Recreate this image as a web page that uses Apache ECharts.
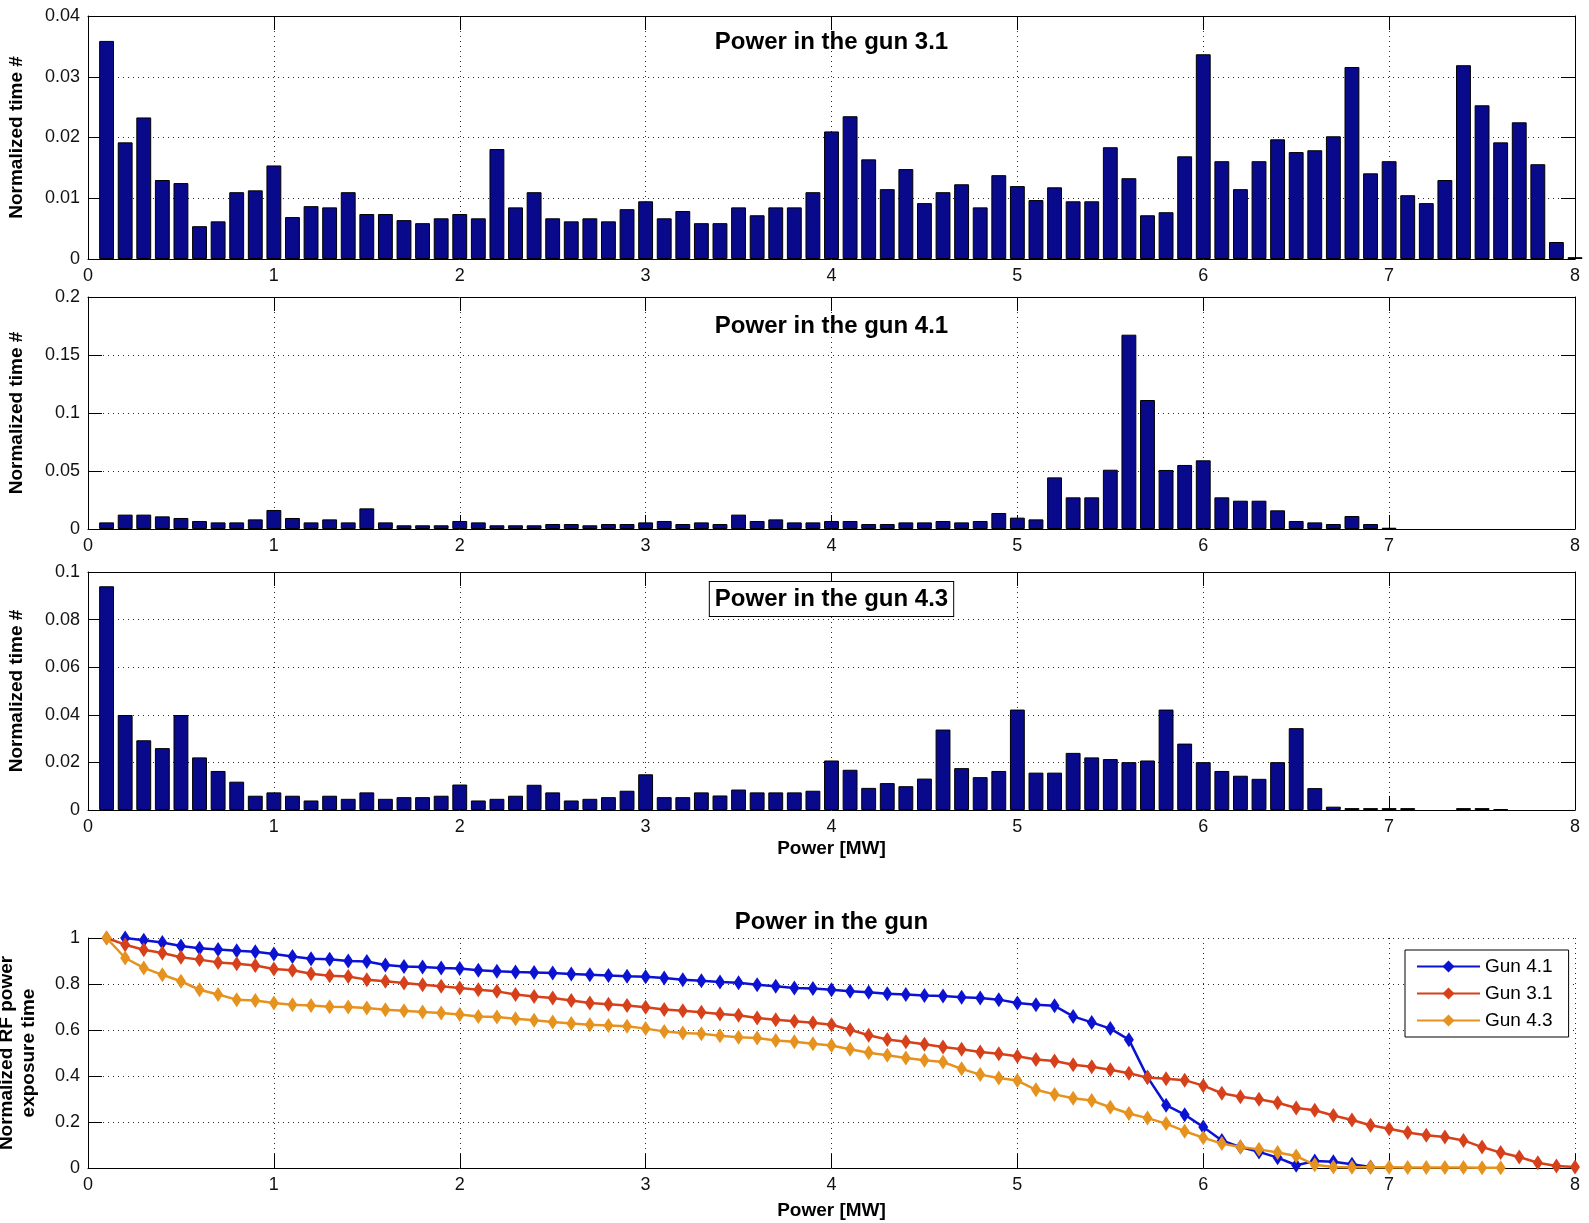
<!DOCTYPE html>
<html>
<head>
<meta charset="utf-8">
<title>Power in the gun</title>
<script src="https://cdn.jsdelivr.net/npm/echarts@6/dist/echarts.min.js"></script>
<style>
  html, body { margin: 0; padding: 0; background: #ffffff; }
  #chart { width: 1589px; height: 1223px; }
</style>
</head>
<body>
<div id="chart"></div>
<script>
// Histogram bin centres, MW
const powerBins = [
  0.1, 0.2, 0.3, 0.4, 0.5, 0.6, 0.7, 0.8, 0.9, 1.0,
  1.1, 1.2, 1.3, 1.4, 1.5, 1.6, 1.7, 1.8, 1.9, 2.0,
  2.1, 2.2, 2.3, 2.4, 2.5, 2.6, 2.7, 2.8, 2.9, 3.0,
  3.1, 3.2, 3.3, 3.4, 3.5, 3.6, 3.7, 3.8, 3.9, 4.0,
  4.1, 4.2, 4.3, 4.4, 4.5, 4.6, 4.7, 4.8, 4.9, 5.0,
  5.1, 5.2, 5.3, 5.4, 5.5, 5.6, 5.7, 5.8, 5.9, 6.0,
  6.1, 6.2, 6.3, 6.4, 6.5, 6.6, 6.7, 6.8, 6.9, 7.0,
  7.1, 7.2, 7.3, 7.4, 7.5, 7.6, 7.7, 7.8, 7.9, 8.0
];

// Normalized time spent in each power bin
const gun31Hist = [
  0.0359, 0.0192, 0.0233, 0.0130, 0.0125, 0.0054, 0.0062, 0.0110, 0.0113, 0.0154,
  0.0069, 0.0087, 0.0085, 0.0110, 0.0074, 0.0074, 0.0064, 0.0059, 0.0067, 0.0074,
  0.0067, 0.0181, 0.0085, 0.0110, 0.0067, 0.0062, 0.0067, 0.0062, 0.0082, 0.0095,
  0.0067, 0.0079, 0.0059, 0.0059, 0.0085, 0.0072, 0.0085, 0.0085, 0.0110, 0.0210,
  0.0235, 0.0164, 0.0115, 0.0148, 0.0092, 0.0110, 0.0123, 0.0085, 0.0138, 0.0120,
  0.0097, 0.0118, 0.0095, 0.0095, 0.0184, 0.0133, 0.0072, 0.0077, 0.0169, 0.0337,
  0.0161, 0.0115, 0.0161, 0.0197, 0.0176, 0.0179, 0.0202, 0.0316, 0.0141, 0.0161,
  0.0105, 0.0092, 0.0130, 0.0319, 0.0253, 0.0192, 0.0225, 0.0156, 0.0028, 0.0003
];

const gun41Hist = [
  0.0057, 0.0124, 0.0124, 0.0109, 0.0095, 0.0069, 0.0057, 0.0057, 0.0083, 0.0164,
  0.0095, 0.0057, 0.0083, 0.0057, 0.0178, 0.0057, 0.0032, 0.0032, 0.0032, 0.0069,
  0.0057, 0.0032, 0.0032, 0.0032, 0.0043, 0.0043, 0.0032, 0.0043, 0.0043, 0.0057,
  0.0069, 0.0043, 0.0057, 0.0043, 0.0124, 0.0069, 0.0083, 0.0057, 0.0057, 0.0069,
  0.0069, 0.0043, 0.0043, 0.0057, 0.0057, 0.0069, 0.0057, 0.0069, 0.0138, 0.0098,
  0.0083, 0.0445, 0.0273, 0.0273, 0.0511, 0.1675, 0.1112, 0.0509, 0.0552, 0.0592,
  0.0273, 0.0244, 0.0244, 0.0161, 0.0069, 0.0057, 0.0043, 0.0112, 0.0043, 0.0011,
  0, 0, 0, 0, 0, 0, 0, 0, 0, 0
];

const gun43Hist = [
  0.0940, 0.0399, 0.0293, 0.0260, 0.0399, 0.0221, 0.0164, 0.0119, 0.0060, 0.0074,
  0.0060, 0.0040, 0.0060, 0.0047, 0.0074, 0.0047, 0.0054, 0.0054, 0.0060, 0.0107,
  0.0040, 0.0047, 0.0060, 0.0106, 0.0074, 0.0040, 0.0047, 0.0054, 0.0081, 0.0150,
  0.0054, 0.0054, 0.0074, 0.0061, 0.0086, 0.0074, 0.0074, 0.0074, 0.0081, 0.0208,
  0.0169, 0.0093, 0.0113, 0.0100, 0.0132, 0.0338, 0.0176, 0.0138, 0.0164, 0.0422,
  0.0157, 0.0157, 0.0240, 0.0221, 0.0214, 0.0201, 0.0208, 0.0422, 0.0279, 0.0201,
  0.0164, 0.0144, 0.0131, 0.0201, 0.0344, 0.0092, 0.0014, 0.0008, 0.0008, 0.0008,
  0.0008, 0, 0, 0.0008, 0.0008, 0.0004, 0, 0, 0, 0
];

// Normalized RF power exposure time (null where no point is plotted)
const gun41Exposure = [
  null, 1.000, 0.990, 0.980, 0.965, 0.955, 0.950, 0.945, 0.940, 0.930,
  0.920, 0.910, 0.908, 0.900, 0.898, 0.883, 0.876, 0.874, 0.870, 0.867,
  0.860, 0.855, 0.852, 0.850, 0.848, 0.843, 0.840, 0.837, 0.834, 0.832,
  0.826, 0.819, 0.814, 0.809, 0.805, 0.797, 0.790, 0.783, 0.780, 0.775,
  0.768, 0.764, 0.758, 0.754, 0.750, 0.748, 0.742, 0.739, 0.732, 0.717,
  0.710, 0.705, 0.659, 0.633, 0.606, 0.558, 0.395, 0.273, 0.232, 0.178,
  0.120, 0.091, 0.070, 0.045, 0.012, 0.030, 0.027, 0.016, 0.004, null,
  null, null, null, null, null, null, null, null, null, null
];

const gun31Exposure = [
  1.000, 0.971, 0.949, 0.935, 0.916, 0.906, 0.894, 0.888, 0.880, 0.865,
  0.860, 0.845, 0.836, 0.833, 0.819, 0.812, 0.804, 0.797, 0.790, 0.783,
  0.775, 0.768, 0.754, 0.746, 0.739, 0.728, 0.717, 0.712, 0.706, 0.699,
  0.689, 0.684, 0.677, 0.670, 0.664, 0.652, 0.645, 0.638, 0.632, 0.623,
  0.601, 0.577, 0.559, 0.549, 0.538, 0.526, 0.516, 0.504, 0.497, 0.486,
  0.472, 0.465, 0.449, 0.440, 0.427, 0.412, 0.393, 0.388, 0.382, 0.358,
  0.325, 0.310, 0.299, 0.284, 0.261, 0.251, 0.228, 0.209, 0.186, 0.171,
  0.154, 0.142, 0.135, 0.120, 0.091, 0.067, 0.048, 0.023, 0.009, 0.004
];

const gun43Exposure = [
  1.000, 0.913, 0.870, 0.840, 0.812, 0.775, 0.754, 0.732, 0.728, 0.717,
  0.710, 0.706, 0.701, 0.700, 0.696, 0.688, 0.684, 0.678, 0.674, 0.667,
  0.659, 0.656, 0.649, 0.642, 0.635, 0.628, 0.623, 0.620, 0.616, 0.606,
  0.594, 0.587, 0.584, 0.575, 0.568, 0.565, 0.554, 0.549, 0.540, 0.533,
  0.516, 0.501, 0.490, 0.478, 0.468, 0.461, 0.431, 0.406, 0.391, 0.380,
  0.340, 0.320, 0.303, 0.293, 0.264, 0.237, 0.217, 0.193, 0.160, 0.132,
  0.106, 0.091, 0.081, 0.067, 0.052, 0.014, 0.004, 0.003, 0.003, 0.003,
  0.002, 0.002, 0.002, 0.002, 0.001, 0.001, null, null, null, null
];

const histTitles = ['Power in the gun 3.1', 'Power in the gun 4.1', 'Power in the gun 4.3'];
const exposureTitle = 'Power in the gun';
const seriesNames = ['Gun 4.1', 'Gun 3.1', 'Gun 4.3'];
const xAxisName = 'Power [MW]';
const histYName = 'Normalized time #';
const exposureYName = 'Normalized RF power\nexposure time';

// ---- layout and styling ----
const FONT = "'Liberation Sans', Arial, Helvetica, sans-serif";
const PLOT_LEFT = 88;
const PLOT_WIDTH = 1487;
const panels = [
  { top: 16,  height: 243, yMax: 0.04, yStep: 0.01 },
  { top: 297, height: 232, yMax: 0.2,  yStep: 0.05 },
  { top: 572, height: 238, yMax: 0.1,  yStep: 0.02 },
  { top: 938, height: 230, yMax: 1,    yStep: 0.2 }
];
const histData = [gun31Hist, gun41Hist, gun43Hist];
const exposureData = [gun41Exposure, gun31Exposure, gun43Exposure];
const lineColors = ['#0c12d2', '#d6401a', '#e6921e'];
const BAR_COLOR = '#09098c';
const TICK_LEN = 14;

const gridDots = { color: '#2a2a2a', width: 1, type: [1, 4] };
const solid = { color: '#000', width: 1 };
const labelStyle = { color: '#111', fontFamily: FONT, fontSize: 18, margin: 8 };
const nameStyle = { color: '#000', fontFamily: FONT, fontSize: 19, fontWeight: 'bold' };

const grids = [];
const xAxes = [];
const yAxes = [];
const series = [];

panels.forEach((p, i) => {
  const boxed = i < 3;
  grids.push({
    left: PLOT_LEFT, top: p.top, width: PLOT_WIDTH, height: p.height,
    containLabel: false, outerBoundsMode: 'none'
  });
  const showXName = i >= 2;

  xAxes.push({
    type: 'value', gridIndex: i, position: 'bottom', min: 0, max: 8, interval: 1,
    axisLine: { show: true, onZero: false, lineStyle: solid },
    axisTick: { show: true, inside: true, length: TICK_LEN, lineStyle: solid },
    axisLabel: Object.assign({ show: true }, labelStyle),
    splitLine: { show: true, showMinLine: false, showMaxLine: !boxed, lineStyle: gridDots },
    name: showXName ? xAxisName : '',
    nameLocation: 'middle',
    nameGap: i === 2 ? 29 : 33,
    nameTextStyle: nameStyle
  });
  yAxes.push({
    type: 'value', gridIndex: i, position: 'left', min: 0, max: p.yMax, interval: p.yStep,
    axisLine: { show: true, onZero: false, lineStyle: solid },
    axisTick: { show: true, inside: true, length: TICK_LEN, lineStyle: solid },
    axisLabel: Object.assign({ show: true }, labelStyle),
    splitLine: { show: true, showMinLine: false, showMaxLine: !boxed, lineStyle: gridDots },
    name: boxed ? histYName : exposureYName,
    nameLocation: 'middle',
    nameRotate: 90,
    nameGap: boxed ? 60 : 48,
    nameTextStyle: Object.assign({ lineHeight: 22 }, nameStyle)
  });

  if (boxed) {
    // top and right edges of the box, with inward ticks
    xAxes.push({
      type: 'value', gridIndex: i, position: 'top', min: 0, max: 8, interval: 1,
      axisLine: { show: true, onZero: false, lineStyle: solid },
      axisTick: { show: true, inside: true, length: TICK_LEN, lineStyle: solid },
      axisLabel: { show: false }, splitLine: { show: false }
    });
    yAxes.push({
      type: 'value', gridIndex: i, position: 'right', min: 0, max: p.yMax, interval: p.yStep,
      axisLine: { show: true, onZero: false, lineStyle: solid },
      axisTick: { show: true, inside: true, length: TICK_LEN, lineStyle: solid },
      axisLabel: { show: false }, splitLine: { show: false }
    });
  }
});

// histogram panels (empty bins draw nothing)
histData.forEach((values, i) => {
  const bars = [];
  powerBins.forEach((x, k) => { if (values[k] > 0) bars.push([x, values[k]]); });
  series.push({
    type: 'bar',
    xAxisIndex: i * 2,
    yAxisIndex: i * 2,
    data: bars,
    barWidth: PLOT_WIDTH / powerBins.length * 0.8,
    clip: true,
    itemStyle: { color: BAR_COLOR, borderColor: '#000', borderWidth: 1 },
    emphasis: { disabled: true },
    silent: true
  });
});

// exposure curves
exposureData.forEach((values, j) => {
  const pts = [];
  powerBins.forEach((x, k) => { if (values[k] !== null) pts.push([x, values[k]]); });
  series.push({
    type: 'line',
    name: seriesNames[j],
    xAxisIndex: 6,
    yAxisIndex: 6,
    data: pts,
    showAllSymbol: true,
    symbol: 'diamond',
    symbolSize: [10, 15],
    color: lineColors[j],
    itemStyle: { color: lineColors[j] },
    lineStyle: { color: lineColors[j], width: 2.5 },
    z: 3 + j,
    silent: true
  });
});

const center = PLOT_LEFT + PLOT_WIDTH / 2;
const titleFont = 'bold 24px ' + FONT;
const graphics = [
  { type: 'text', x: center, y: 42, z: 100,
    style: { text: histTitles[0], font: titleFont, fill: '#000', align: 'center', verticalAlign: 'middle' } },
  { type: 'text', x: center, y: 326, z: 100,
    style: { text: histTitles[1], font: titleFont, fill: '#000', align: 'center', verticalAlign: 'middle' } },
  { type: 'text', x: center, y: 599, z: 100,
    style: { text: histTitles[2], font: titleFont, fill: '#000', align: 'center', verticalAlign: 'middle',
             backgroundColor: '#fff', borderColor: '#000', borderWidth: 1, padding: [5, 5, 5, 5] } },
  { type: 'text', x: center, y: 922, z: 100,
    style: { text: exposureTitle, font: titleFont, fill: '#000', align: 'center', verticalAlign: 'middle' } }
];

const chart = echarts.init(document.getElementById('chart'), null, { renderer: 'canvas' });
chart.setOption({
  animation: false,
  backgroundColor: '#ffffff',
  grid: grids,
  xAxis: xAxes,
  yAxis: yAxes,
  series: series,
  legend: {
    data: seriesNames,
    orient: 'vertical',
    left: 1405,
    top: 950,
    padding: [7, 16, 7, 11],
    itemGap: 8,
    itemWidth: 63,
    itemHeight: 15,
    backgroundColor: '#fff',
    borderColor: '#000',
    borderWidth: 1,
    borderRadius: 0,
    selectedMode: false,
    textStyle: { color: '#000', fontFamily: FONT, fontSize: 19 }
  },
  graphic: graphics
});
</script>
</body>
</html>
